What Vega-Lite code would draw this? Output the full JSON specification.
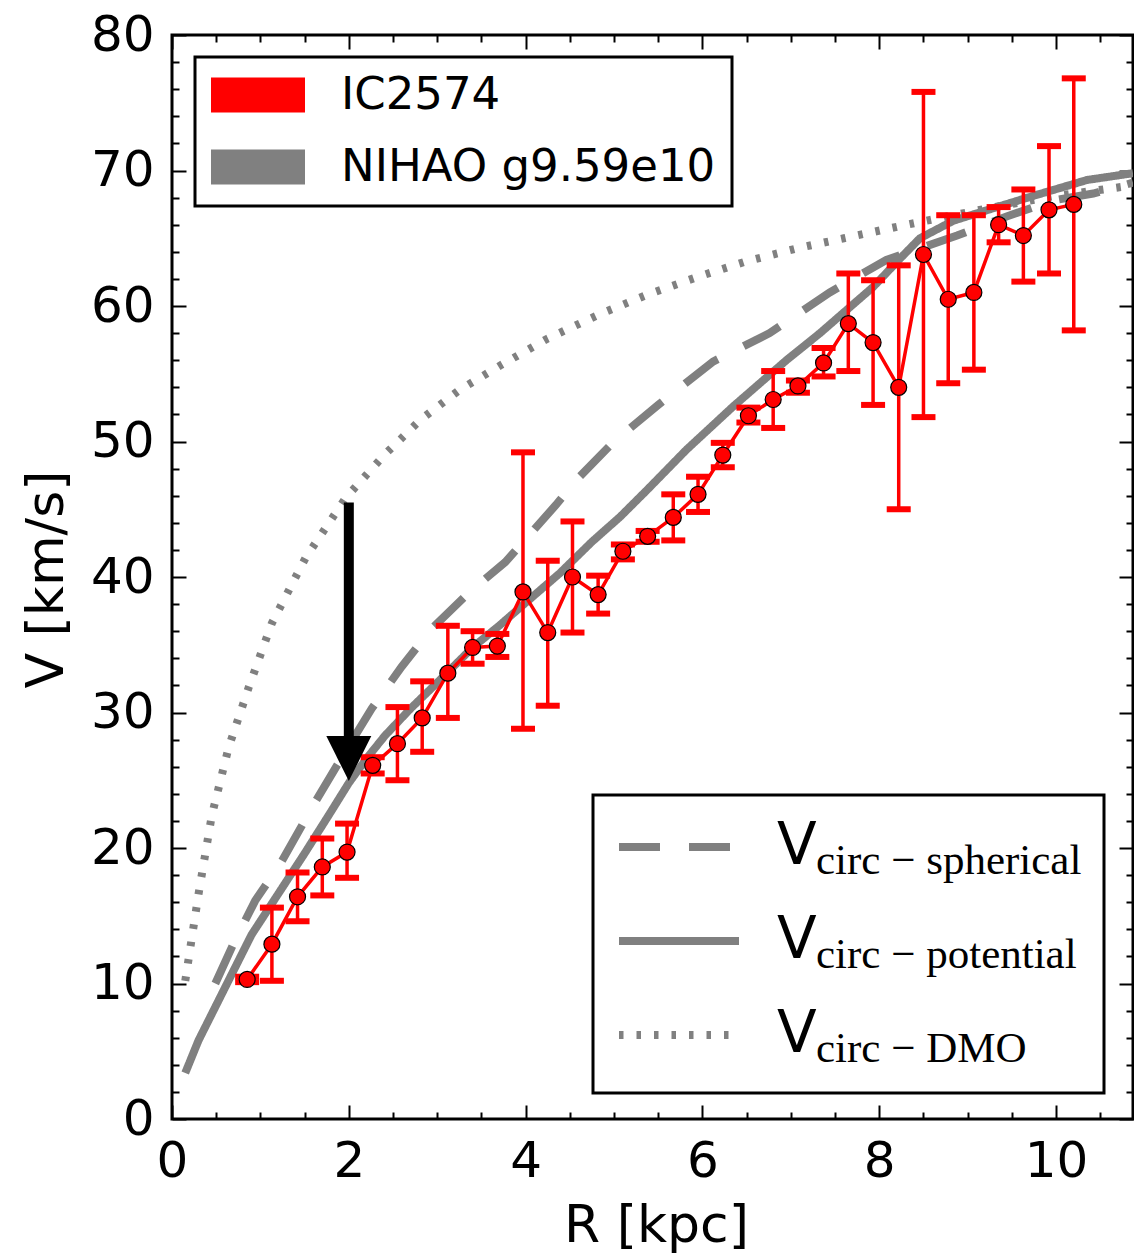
{
"$schema": "https://vega.github.io/schema/vega-lite/v6.json",
"autosize": {"type": "none"},
"padding": {"left": 172, "top": 35, "right": 1, "bottom": 135},
"width": 961,
"height": 1084,
"background": "white",
"datasets": {
"curves": [
{"r":0.15,"v":3.4,"model":"potential","sub":"circ − potential","src":"NIHAO g9.59e10"},
{"r":0.3,"v":5.8,"model":"potential","sub":"circ − potential","src":"NIHAO g9.59e10"},
{"r":0.6,"v":9.7,"model":"potential","sub":"circ − potential","src":"NIHAO g9.59e10"},
{"r":0.9,"v":13.6,"model":"potential","sub":"circ − potential","src":"NIHAO g9.59e10"},
{"r":1.2,"v":16.6,"model":"potential","sub":"circ − potential","src":"NIHAO g9.59e10"},
{"r":1.5,"v":19.6,"model":"potential","sub":"circ − potential","src":"NIHAO g9.59e10"},
{"r":1.8,"v":22.7,"model":"potential","sub":"circ − potential","src":"NIHAO g9.59e10"},
{"r":2.0,"v":24.8,"model":"potential","sub":"circ − potential","src":"NIHAO g9.59e10"},
{"r":2.2,"v":26.6,"model":"potential","sub":"circ − potential","src":"NIHAO g9.59e10"},
{"r":2.41,"v":28.3,"model":"potential","sub":"circ − potential","src":"NIHAO g9.59e10"},
{"r":2.7,"v":30.3,"model":"potential","sub":"circ − potential","src":"NIHAO g9.59e10"},
{"r":3.0,"v":32.2,"model":"potential","sub":"circ − potential","src":"NIHAO g9.59e10"},
{"r":3.4,"v":34.8,"model":"potential","sub":"circ − potential","src":"NIHAO g9.59e10"},
{"r":3.7,"v":36.4,"model":"potential","sub":"circ − potential","src":"NIHAO g9.59e10"},
{"r":4.0,"v":38.1,"model":"potential","sub":"circ − potential","src":"NIHAO g9.59e10"},
{"r":4.39,"v":40.3,"model":"potential","sub":"circ − potential","src":"NIHAO g9.59e10"},
{"r":4.75,"v":42.6,"model":"potential","sub":"circ − potential","src":"NIHAO g9.59e10"},
{"r":5.07,"v":44.45,"model":"potential","sub":"circ − potential","src":"NIHAO g9.59e10"},
{"r":5.37,"v":46.4,"model":"potential","sub":"circ − potential","src":"NIHAO g9.59e10"},
{"r":5.82,"v":49.4,"model":"potential","sub":"circ − potential","src":"NIHAO g9.59e10"},
{"r":6.35,"v":52.6,"model":"potential","sub":"circ − potential","src":"NIHAO g9.59e10"},
{"r":6.95,"v":56.0,"model":"potential","sub":"circ − potential","src":"NIHAO g9.59e10"},
{"r":7.33,"v":58.0,"model":"potential","sub":"circ − potential","src":"NIHAO g9.59e10"},
{"r":7.93,"v":61.4,"model":"potential","sub":"circ − potential","src":"NIHAO g9.59e10"},
{"r":8.22,"v":63.4,"model":"potential","sub":"circ − potential","src":"NIHAO g9.59e10"},
{"r":8.46,"v":65.0,"model":"potential","sub":"circ − potential","src":"NIHAO g9.59e10"},
{"r":8.84,"v":66.3,"model":"potential","sub":"circ − potential","src":"NIHAO g9.59e10"},
{"r":9.33,"v":67.3,"model":"potential","sub":"circ − potential","src":"NIHAO g9.59e10"},
{"r":9.78,"v":68.2,"model":"potential","sub":"circ − potential","src":"NIHAO g9.59e10"},
{"r":10.35,"v":69.3,"model":"potential","sub":"circ − potential","src":"NIHAO g9.59e10"},
{"r":10.87,"v":69.8,"model":"potential","sub":"circ − potential","src":"NIHAO g9.59e10"},
{"r":0.49,"v":10.0,"model":"spherical","sub":"circ − spherical","src":"NIHAO g9.59e10"},
{"r":0.7,"v":13.0,"model":"spherical","sub":"circ − spherical","src":"NIHAO g9.59e10"},
{"r":0.94,"v":16.1,"model":"spherical","sub":"circ − spherical","src":"NIHAO g9.59e10"},
{"r":1.24,"v":19.0,"model":"spherical","sub":"circ − spherical","src":"NIHAO g9.59e10"},
{"r":1.62,"v":23.4,"model":"spherical","sub":"circ − spherical","src":"NIHAO g9.59e10"},
{"r":1.95,"v":27.0,"model":"spherical","sub":"circ − spherical","src":"NIHAO g9.59e10"},
{"r":2.26,"v":30.3,"model":"spherical","sub":"circ − spherical","src":"NIHAO g9.59e10"},
{"r":2.6,"v":33.4,"model":"spherical","sub":"circ − spherical","src":"NIHAO g9.59e10"},
{"r":2.94,"v":36.2,"model":"spherical","sub":"circ − spherical","src":"NIHAO g9.59e10"},
{"r":3.35,"v":38.8,"model":"spherical","sub":"circ − spherical","src":"NIHAO g9.59e10"},
{"r":3.77,"v":41.1,"model":"spherical","sub":"circ − spherical","src":"NIHAO g9.59e10"},
{"r":4.34,"v":45.3,"model":"spherical","sub":"circ − spherical","src":"NIHAO g9.59e10"},
{"r":4.58,"v":47.2,"model":"spherical","sub":"circ − spherical","src":"NIHAO g9.59e10"},
{"r":5.0,"v":50.0,"model":"spherical","sub":"circ − spherical","src":"NIHAO g9.59e10"},
{"r":5.5,"v":52.7,"model":"spherical","sub":"circ − spherical","src":"NIHAO g9.59e10"},
{"r":6.12,"v":55.9,"model":"spherical","sub":"circ − spherical","src":"NIHAO g9.59e10"},
{"r":6.76,"v":58.0,"model":"spherical","sub":"circ − spherical","src":"NIHAO g9.59e10"},
{"r":7.44,"v":61.0,"model":"spherical","sub":"circ − spherical","src":"NIHAO g9.59e10"},
{"r":8.08,"v":63.4,"model":"spherical","sub":"circ − spherical","src":"NIHAO g9.59e10"},
{"r":8.88,"v":65.2,"model":"spherical","sub":"circ − spherical","src":"NIHAO g9.59e10"},
{"r":9.44,"v":66.6,"model":"spherical","sub":"circ − spherical","src":"NIHAO g9.59e10"},
{"r":9.97,"v":67.8,"model":"spherical","sub":"circ − spherical","src":"NIHAO g9.59e10"},
{"r":10.42,"v":68.3,"model":"spherical","sub":"circ − spherical","src":"NIHAO g9.59e10"},
{"r":10.87,"v":69.1,"model":"spherical","sub":"circ − spherical","src":"NIHAO g9.59e10"},
{"r":0.15,"v":10.2,"model":"DMO","sub":"circ − DMO","src":"NIHAO g9.59e10"},
{"r":0.3,"v":16.6,"model":"DMO","sub":"circ − DMO","src":"NIHAO g9.59e10"},
{"r":0.45,"v":22.4,"model":"DMO","sub":"circ − DMO","src":"NIHAO g9.59e10"},
{"r":0.64,"v":27.4,"model":"DMO","sub":"circ − DMO","src":"NIHAO g9.59e10"},
{"r":0.87,"v":31.9,"model":"DMO","sub":"circ − DMO","src":"NIHAO g9.59e10"},
{"r":1.13,"v":36.6,"model":"DMO","sub":"circ − DMO","src":"NIHAO g9.59e10"},
{"r":1.51,"v":41.4,"model":"DMO","sub":"circ − DMO","src":"NIHAO g9.59e10"},
{"r":1.96,"v":45.8,"model":"DMO","sub":"circ − DMO","src":"NIHAO g9.59e10"},
{"r":2.4,"v":49.0,"model":"DMO","sub":"circ − DMO","src":"NIHAO g9.59e10"},
{"r":2.81,"v":51.6,"model":"DMO","sub":"circ − DMO","src":"NIHAO g9.59e10"},
{"r":3.25,"v":53.8,"model":"DMO","sub":"circ − DMO","src":"NIHAO g9.59e10"},
{"r":3.71,"v":55.6,"model":"DMO","sub":"circ − DMO","src":"NIHAO g9.59e10"},
{"r":4.25,"v":57.6,"model":"DMO","sub":"circ − DMO","src":"NIHAO g9.59e10"},
{"r":4.84,"v":59.4,"model":"DMO","sub":"circ − DMO","src":"NIHAO g9.59e10"},
{"r":5.4,"v":60.9,"model":"DMO","sub":"circ − DMO","src":"NIHAO g9.59e10"},
{"r":5.97,"v":62.2,"model":"DMO","sub":"circ − DMO","src":"NIHAO g9.59e10"},
{"r":6.5,"v":63.3,"model":"DMO","sub":"circ − DMO","src":"NIHAO g9.59e10"},
{"r":7.1,"v":64.3,"model":"DMO","sub":"circ − DMO","src":"NIHAO g9.59e10"},
{"r":7.6,"v":65.0,"model":"DMO","sub":"circ − DMO","src":"NIHAO g9.59e10"},
{"r":8.24,"v":65.9,"model":"DMO","sub":"circ − DMO","src":"NIHAO g9.59e10"},
{"r":8.46,"v":66.2,"model":"DMO","sub":"circ − DMO","src":"NIHAO g9.59e10"},
{"r":9.22,"v":67.2,"model":"DMO","sub":"circ − DMO","src":"NIHAO g9.59e10"},
{"r":9.97,"v":68.1,"model":"DMO","sub":"circ − DMO","src":"NIHAO g9.59e10"},
{"r":10.87,"v":68.9,"model":"DMO","sub":"circ − DMO","src":"NIHAO g9.59e10"}
],
"obs": [
{"r":0.85,"v":10.3,"lo":10.1,"hi":10.5},
{"r":1.13,"v":12.9,"lo":10.2,"hi":15.6},
{"r":1.42,"v":16.4,"lo":14.6,"hi":18.2},
{"r":1.70,"v":18.6,"lo":16.5,"hi":20.7},
{"r":1.98,"v":19.7,"lo":17.8,"hi":21.8},
{"r":2.27,"v":26.1,"lo":25.5,"hi":26.7},
{"r":2.55,"v":27.7,"lo":25.0,"hi":30.4},
{"r":2.83,"v":29.6,"lo":27.1,"hi":32.3},
{"r":3.12,"v":32.9,"lo":29.6,"hi":36.4},
{"r":3.40,"v":34.8,"lo":33.6,"hi":36.0},
{"r":3.68,"v":34.9,"lo":34.1,"hi":35.8},
{"r":3.97,"v":38.9,"lo":28.8,"hi":49.2},
{"r":4.25,"v":35.9,"lo":30.5,"hi":41.2},
{"r":4.53,"v":40.0,"lo":35.9,"hi":44.1},
{"r":4.82,"v":38.7,"lo":37.3,"hi":40.1},
{"r":5.10,"v":41.9,"lo":41.3,"hi":42.4},
{"r":5.38,"v":43.0,"lo":42.6,"hi":43.4},
{"r":5.67,"v":44.4,"lo":42.7,"hi":46.1},
{"r":5.95,"v":46.1,"lo":44.8,"hi":47.4},
{"r":6.23,"v":49.0,"lo":48.1,"hi":49.9},
{"r":6.52,"v":51.9,"lo":51.4,"hi":52.5},
{"r":6.80,"v":53.1,"lo":51.0,"hi":55.2},
{"r":7.08,"v":54.1,"lo":53.6,"hi":54.5},
{"r":7.37,"v":55.8,"lo":54.8,"hi":56.9},
{"r":7.65,"v":58.7,"lo":55.2,"hi":62.4},
{"r":7.93,"v":57.3,"lo":52.7,"hi":61.9},
{"r":8.22,"v":54.0,"lo":45.0,"hi":63.0},
{"r":8.50,"v":63.8,"lo":51.8,"hi":75.8},
{"r":8.78,"v":60.5,"lo":54.3,"hi":66.7},
{"r":9.07,"v":61.0,"lo":55.3,"hi":66.7},
{"r":9.35,"v":66.0,"lo":64.7,"hi":67.3},
{"r":9.63,"v":65.2,"lo":61.8,"hi":68.6},
{"r":9.92,"v":67.1,"lo":62.4,"hi":71.8},
{"r":10.20,"v":67.5,"lo":58.2,"hi":76.8}
],
"arrow": [{"r":2.0,"v":45.5,"v2":28.0}],
"head": [{"r":2.0,"v":26.6}]
},
"resolve": {"axis": {"x": "independent", "y": "independent"}},
"layer": [
{
"data": {"name": "curves"},
"mark": {"type": "line", "strokeWidth": 8, "clip": true},
"encoding": {
"x": {"field": "r", "type": "quantitative", "scale": {"domain": [0, 10.87], "nice": false, "zero": false},
"axis": {"orient": "bottom", "values": [0,2,4,6,8,10], "tickSize": -14, "labelPadding": 31, "labelBaseline": "top", "title": "R [kpc]", "titleX": 484, "titleY": 122, "titleAlign": "center", "titleBaseline": "alphabetic", "titleAngle": 0}},
"y": {"field": "v", "type": "quantitative", "scale": {"domain": [0, 80], "nice": false, "zero": false},
"axis": {"orient": "left", "values": [0,10,20,30,40,50,60,70,80], "tickSize": -14, "labelPadding": 32, "title": "V [km/s]", "titleX": -126, "titleY": 544, "titleAngle": -90, "titleAlign": "center", "titleBaseline": "middle"}},
"color": {"field": "src", "type": "nominal",
"scale": {"domain": ["IC2574", "NIHAO g9.59e10"], "range": ["#ff0000", "#808080"]},
"legend": {"orient": "none", "legendX": 23, "legendY": 22, "title": null,
"symbolType": "M-1,-0.37L1,-0.37L1,0.37L-1,0.37Z", "symbolSize": 8836, "symbolStrokeWidth": 0,
"labelFont": "DejaVu Sans", "labelFontSize": 45, "labelColor": "black", "labelOffset": 36, "labelLimit": 800,
"padding": 16, "clipHeight": 44, "rowPadding": 27, "strokeColor": "black", "fillColor": "white", "zindex": 3,
"encode": {"legend": {"update": {"strokeWidth": {"value": 3}}}, "symbols": {"update": {"fill": {"scale": "color", "field": "value"}, "stroke": {"value": "transparent"}, "opacity": {"value": 1}, "strokeDash": {"value": [1, 0]}}}}}},
"strokeDash": {"field": "model", "type": "nominal",
"scale": {"domain": ["spherical", "potential", "DMO"], "range": [[41, 29], [1, 0], [4.5, 13]]},
"legend": {"orient": "none", "legendX": 443, "legendY": 782, "title": null,
"symbolType": "M-1,0L1,0", "symbolSize": 14400, "symbolStrokeWidth": 8, "symbolStrokeColor": "#808080",
"labelExpr": "'V'", "labelFont": "DejaVu Sans", "labelFontSize": 58, "labelColor": "black", "labelOffset": 34, "labelLimit": 800,
"padding": 0, "clipHeight": 60, "rowPadding": 34, "zindex": 2,
"encode": {"symbols": {"update": {"stroke": {"value": "#808080"}, "strokeWidth": {"value": 8}, "opacity": {"value": 1}}}}}},
"opacity": {"field": "sub", "type": "nominal",
"scale": {"type": "ordinal", "domain": ["circ − spherical", "circ − potential", "circ − DMO"], "range": [1, 1, 1]},
"legend": {"orient": "none", "legendX": 421, "legendY": 760, "title": null,
"symbolType": "M-1,0L1,0", "symbolSize": 14400, "symbolOpacity": 0, "symbolStrokeColor": "transparent", "symbolFillColor": "transparent", "symbolStrokeWidth": 0,
"labelExpr": "datum.label + '\u00a0'",
"labelFont": "Liberation Serif", "labelFontSize": 43, "labelColor": "black", "labelOffset": 81, "labelLimit": 800,
"padding": 22, "clipHeight": 60, "rowPadding": 28, "strokeColor": "black", "fillColor": "white", "zindex": 1,
"encode": {"legend": {"update": {"strokeWidth": {"value": 3}}}, "symbols": {"update": {"opacity": {"value": 0}, "stroke": {"value": "transparent"}, "strokeWidth": {"value": 0}}}, "labels": {"update": {"dy": {"value": 14}}}}}}
}
},
{
"data": {"name": "obs"},
"mark": {"type": "line", "color": "#ff0000", "strokeWidth": 3.5},
"encoding": {
"x": {"field": "r", "type": "quantitative", "scale": {"domain": [0, 10.87], "nice": false, "zero": false},
"axis": {"orient": "bottom", "values": [0.5,1,1.5,2.5,3,3.5,4.5,5,5.5,6.5,7,7.5,8.5,9,9.5,10.5], "tickSize": -7, "labels": false, "title": null}},
"y": {"field": "v", "type": "quantitative", "scale": {"domain": [0, 80], "nice": false, "zero": false},
"axis": {"orient": "left", "values": [2,4,6,8,12,14,16,18,22,24,26,28,32,34,36,38,42,44,46,48,52,54,56,58,62,64,66,68,72,74,76,78], "tickSize": -7, "labels": false, "title": null}}
}
},
{
"data": {"name": "obs"},
"mark": {"type": "rule", "color": "#ff0000", "strokeWidth": 3.5},
"encoding": {
"x": {"field": "r", "type": "quantitative", "scale": {"domain": [0, 10.87], "nice": false, "zero": false},
"axis": {"orient": "top", "values": [0,2,4,6,8,10], "tickSize": -14, "labels": false, "title": null}},
"y": {"field": "lo", "type": "quantitative", "scale": {"domain": [0, 80], "nice": false, "zero": false},
"axis": {"orient": "right", "values": [0,10,20,30,40,50,60,70,80], "tickSize": -14, "labels": false, "title": null}},
"y2": {"field": "hi"}
}
},
{
"data": {"name": "obs"},
"mark": {"type": "tick", "orient": "horizontal", "color": "#ff0000", "size": 24, "thickness": 6, "opacity": 1},
"encoding": {
"x": {"field": "r", "type": "quantitative", "scale": {"domain": [0, 10.87], "nice": false, "zero": false},
"axis": {"orient": "top", "values": [0.5,1,1.5,2.5,3,3.5,4.5,5,5.5,6.5,7,7.5,8.5,9,9.5,10.5], "tickSize": -7, "labels": false, "title": null}},
"y": {"field": "lo", "type": "quantitative", "scale": {"domain": [0, 80], "nice": false, "zero": false},
"axis": {"orient": "right", "values": [2,4,6,8,12,14,16,18,22,24,26,28,32,34,36,38,42,44,46,48,52,54,56,58,62,64,66,68,72,74,76,78], "tickSize": -7, "labels": false, "title": null}}
}
},
{
"data": {"name": "obs"},
"mark": {"type": "tick", "orient": "horizontal", "color": "#ff0000", "size": 24, "thickness": 6, "opacity": 1},
"encoding": {
"x": {"field": "r", "type": "quantitative", "axis": null},
"y": {"field": "hi", "type": "quantitative", "axis": null}
}
},
{
"data": {"name": "obs"},
"mark": {"type": "point", "shape": "circle", "filled": true, "fill": "#ff0000", "stroke": "black", "strokeWidth": 1.2, "size": 256, "opacity": 1},
"encoding": {
"x": {"field": "r", "type": "quantitative", "axis": null},
"y": {"field": "v", "type": "quantitative", "axis": null}
}
},
{
"data": {"name": "arrow"},
"mark": {"type": "rule", "color": "black", "strokeWidth": 10},
"encoding": {
"x": {"field": "r", "type": "quantitative", "axis": null},
"y": {"field": "v", "type": "quantitative", "axis": null},
"y2": {"field": "v2"}
}
},
{
"data": {"name": "head"},
"mark": {"type": "point", "shape": "M-1,-1L1,-1L0,1Z", "filled": true, "fill": "black", "strokeWidth": 0, "size": 2025, "opacity": 1},
"encoding": {
"x": {"field": "r", "type": "quantitative", "axis": null},
"y": {"field": "v", "type": "quantitative", "axis": null}
}
}
],
"config": {
"view": {"stroke": "black", "strokeWidth": 3},
"axis": {"grid": false, "domain": false, "tickColor": "black", "tickWidth": 2, "labelColor": "black", "labelFont": "DejaVu Sans", "labelFontSize": 50, "titleFont": "DejaVu Sans", "titleFontSize": 52, "titleFontWeight": "normal", "titleColor": "black", "labelFlush": false, "labelOverlap": false}
}
}
